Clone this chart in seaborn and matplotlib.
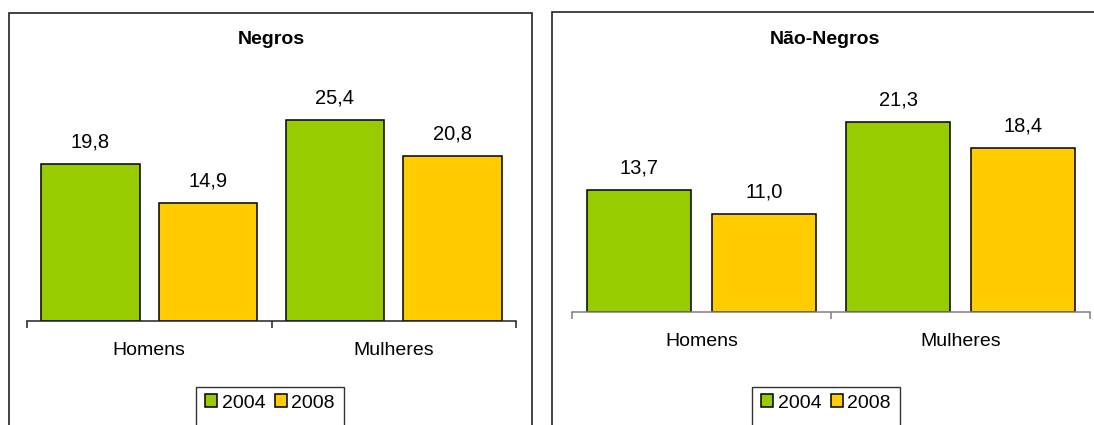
import matplotlib
matplotlib.use("Agg")
import matplotlib.pyplot as plt
from matplotlib.patches import Rectangle, Patch
import seaborn as sns
import pandas as pd

# ---- data ----
categories = ["Homens", "Mulheres"]
years = ["2004", "2008"]
negros_2004 = [19.8, 25.4]
negros_2008 = [14.9, 20.8]
naonegros_2004 = [13.7, 21.3]
naonegros_2008 = [11.0, 18.4]
titles = ["Negros", "Não-Negros"]

colors = {"2004": "#99CC00", "2008": "#FFCC00"}

sns.set_style("white")
plt.rcParams["font.family"] = ["Liberation Sans", "DejaVu Sans"]
plt.rcParams["font.size"] = 14
plt.rcParams["text.color"] = "black"
plt.rcParams["xtick.color"] = "black"
plt.rcParams["xtick.labelcolor"] = "black"

W, H = 1094, 425
fig = plt.figure(figsize=(W / 100, H / 100), dpi=100)


def frac_rect(x0, x1, y_base, y_top):
    return [x0 / W, (H - y_base) / H, (x1 - x0) / W, (y_base - y_top) / H]


def make_df(v04, v08):
    return pd.DataFrame({
        "cat": categories * 2,
        "year": [years[0]] * 2 + [years[1]] * 2,
        "val": list(v04) + list(v08),
    })


panels = [
    dict(data=make_df(negros_2004, negros_2008), ax=frac_rect(27, 516, 320.7, 320.7 - 30 * 7.9),
         ylim=30, title=titles[0], title_x=271, leg_x=270, frame=(9, 532, 13), axcol="#222222"),
    dict(data=make_df(naonegros_2004, naonegros_2008), ax=frac_rect(572, 1090, 312, 312 - 25 * 8.93),
         ylim=25, title=titles[1], title_x=825, leg_x=826, frame=(552, 1120, 12), axcol="#7f7f7f"),
]

for p in panels:
    ax = fig.add_axes(p["ax"])
    sns.barplot(data=p["data"], x="cat", y="val", hue="year", order=categories,
                hue_order=years, palette=colors, width=0.962, gap=0.162,
                edgecolor="black", linewidth=1.1, saturation=1, ax=ax,
                legend=False, errorbar=None)
    ax.set_xlim(-0.5, 1.5)
    ax.set_ylim(0, p["ylim"])
    ax.set_xlabel("")
    ax.set_ylabel("")
    ax.set_yticks([])
    for s in ["top", "left", "right"]:
        ax.spines[s].set_visible(False)
    ax.spines["bottom"].set_color(p["axcol"])
    ax.spines["bottom"].set_linewidth(1.1)
    ax.set_xticks([0, 1])
    ax.set_xticklabels(categories)
    ax.tick_params(axis="x", which="major", bottom=True, length=0, pad=15, labelsize=14,
                   labelcolor="black")
    ax.set_xticks([-0.5, 0.5, 1.5], minor=True)
    ax.tick_params(axis="x", which="minor", bottom=True, length=5, width=1.1,
                   color=p["axcol"], direction="out")
    ax.patch.set_alpha(0)
    for c in ax.containers:
        ax.bar_label(c, fmt=lambda v: f"{v:.1f}".replace(".", ","), padding=9,
                     fontsize=14.5, color="black")

    fig.text(p["title_x"] / W, 1 - 40 / H, p["title"], ha="center", va="center",
             fontsize=14, fontweight="bold", color="black")

    handles = [Patch(facecolor=colors[y], edgecolor="black", linewidth=1.1, label=y) for y in years]
    fig.legend(handles=handles, loc="center", bbox_to_anchor=(p["leg_x"] / W, 1 - 403 / H),
               ncol=2, frameon=False, handlelength=0.6, handleheight=0.6,
               handletextpad=0.25, columnspacing=0.5, fontsize=14, borderaxespad=0)
    lx0 = p["leg_x"] - 74
    fig.patches.append(Rectangle((lx0 / W, -0.1), 148 / W, 0.1 + (H - 387) / H,
                                 transform=fig.transFigure, fill=False,
                                 edgecolor="#333333", linewidth=1.0, clip_on=False))

    fx0, fx1, fy = p["frame"]
    fig.patches.append(Rectangle((fx0 / W, -0.1), (fx1 - fx0) / W, 0.1 + (H - fy) / H,
                                 transform=fig.transFigure, fill=False,
                                 edgecolor="#222222", linewidth=1.2, clip_on=False))

fig.savefig("out.png", dpi=100)
